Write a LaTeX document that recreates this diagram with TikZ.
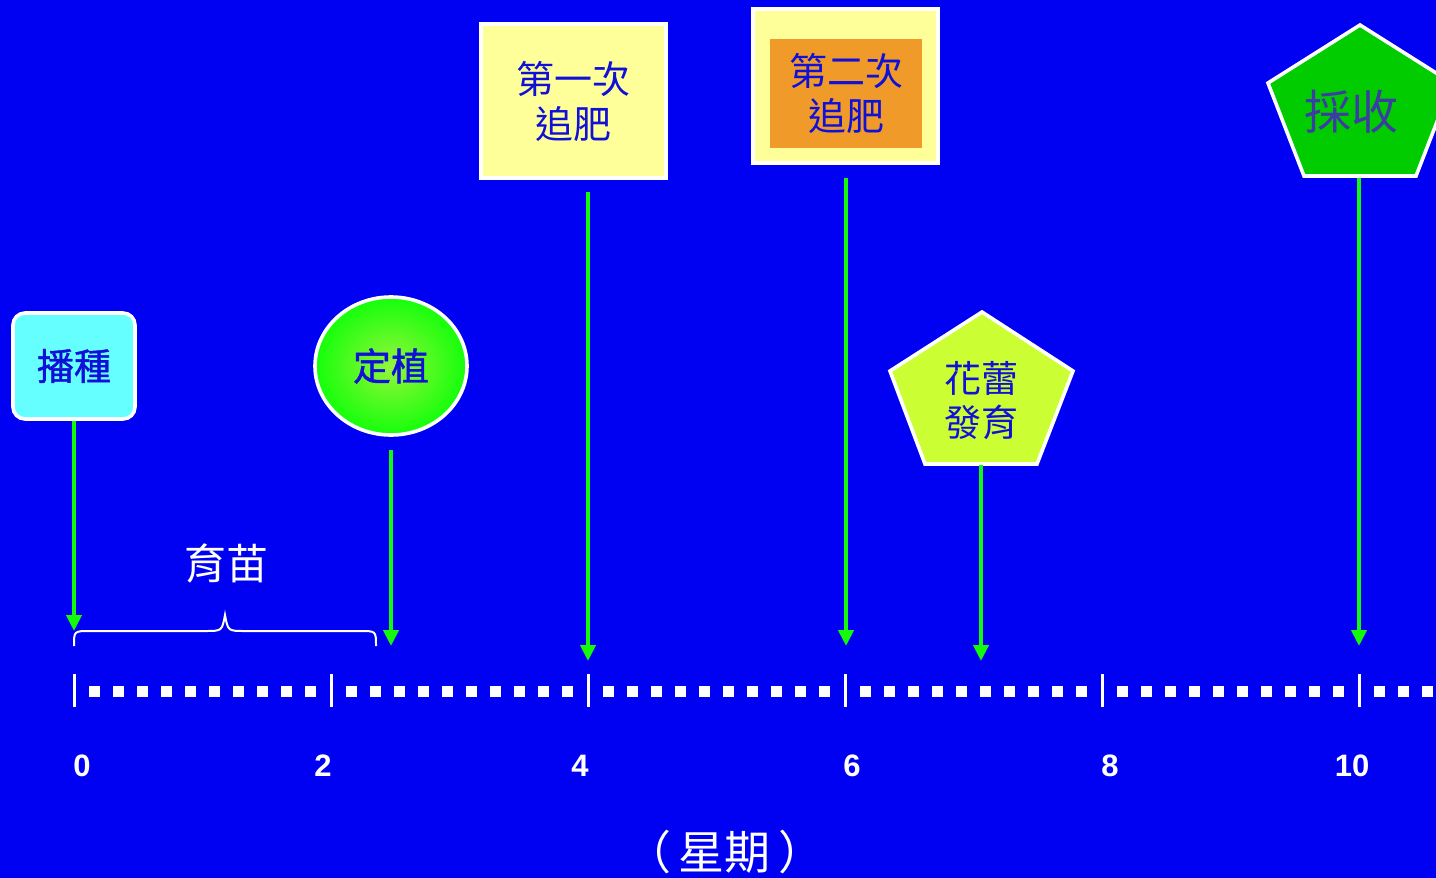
\documentclass[tikz,border=0pt]{standalone}
\usepackage{fontspec}
\setmainfont{Liberation Sans}
\newfontfamily\cjk{Noto Sans CJK TC}
\newfontfamily\cjkb[FakeBold=1.2]{Noto Sans CJK TC}
\usetikzlibrary{arrows.meta,shapes.geometric}
\definecolor{bg}{RGB}{0,0,242}
\definecolor{arrowgreen}{RGB}{20,250,10}
\definecolor{txtblue}{RGB}{16,16,215}
\definecolor{harvtxt}{RGB}{60,60,165}
\definecolor{cyanbox}{RGB}{102,255,255}
\definecolor{paleyellow}{RGB}{255,255,153}
\definecolor{orangebox}{RGB}{240,154,42}
\definecolor{budgreen}{RGB}{204,255,51}
\definecolor{harvgreen}{RGB}{0,204,0}
\definecolor{ellin}{RGB}{150,245,60}
\definecolor{ellout}{RGB}{20,255,10}
\tikzset{
  wborder/.style={draw=white, line width=1.8pt, inner sep=0pt},
  cjktext/.style={text=txtblue, align=center, font=\cjk\fontsize{19}{22.5}\selectfont},
  garrow/.style={draw=arrowgreen, line width=2pt, -{Triangle[width=7.5pt,length=8pt]}},
  ticklab/.style={text=white, font=\bfseries\fontsize{15.5}{18}\selectfont},
  tickmark/.style={draw=white, line width=1.5pt},
  dotsq/.style={fill=white},
}
\begin{document}
\begin{tikzpicture}[x=0.5pt,y=-0.5pt]
\useasboundingbox (0,0) rectangle (1436,878);
\fill[bg] (0,0) rectangle (1436,878);
\begin{scope}
\clip (0,0) rectangle (1436,878);
% axis ticks and dotted squares
\foreach \i in {0,...,5} {
  \pgfmathsetmacro{\tx}{74+257*\i}
  \draw[tickmark] (\tx,674) -- (\tx,707);
  \foreach \k in {0,...,9} {
    \pgfmathsetmacro{\sx}{\tx+20.5+24*\k}
    \fill[dotsq] (\sx-5.5,685.5) rectangle (\sx+5.5,696.5);
  }
}
% pentagons
\draw[white, line width=1.8pt, fill=budgreen, line join=miter]
  (982,312) -- (1073,371) -- (1037,464) -- (925,464) -- (890,371) -- cycle;
\draw[white, line width=1.8pt, fill=harvgreen, line join=miter]
  (1360,25) -- (1452,83) -- (1416,176) -- (1304,176) -- (1268,83) -- cycle;
\end{scope}

% nodes
\node[wborder, fill=cyanbox, rounded corners=6pt, minimum width=61pt, minimum height=53pt,
      cjktext, font=\cjkb\fontsize{18.5}{22}\selectfont] (bozhong) at (74,366) {播種};
\node[wborder, ellipse, minimum width=76pt, minimum height=69pt, inner color=ellin, outer color=ellout,
      cjktext, font=\cjkb\fontsize{19}{22}\selectfont] (dingzhi) at (391,366) {定植};
\node[wborder, fill=paleyellow, minimum width=92.5pt, minimum height=77pt, cjktext] (zhui1) at (573.5,101) {第一次\\追肥};
\node[wborder, fill=paleyellow, minimum width=92.5pt, minimum height=77pt] (zhui2out) at (845.5,86) {};
\node[fill=orangebox, inner sep=0pt, minimum width=76pt, minimum height=54.5pt, cjktext] (zhui2) at (846,93) {第二次\\追肥};
\node[cjktext, font=\cjk\fontsize{18.5}{22}\selectfont] (hualei) at (981,401) {花蕾\\發育};
\node[text=harvtxt, font=\cjk\fontsize{23.5}{26}\selectfont] (caishou) at (1351,112) {採收};
\node[text=white, font=\cjk\fontsize{21}{24}\selectfont] (yumiao) at (226,563) {育苗};
\node[text=white, font=\cjk\fontsize{23}{26}\selectfont] (xingqi) at (725,852) {（\hspace{4pt}星期\hspace{4pt}）};

% tick labels
\node[ticklab] (l0) at (82,766) {0};
\node[ticklab] (l2) at (323,766) {2};
\node[ticklab] (l4) at (580,766) {4};
\node[ticklab] (l6) at (852,766) {6};
\node[ticklab] (l8) at (1110,766) {8};
\node[ticklab] (l10) at (1352,766) {10};

% brace
\draw[white, line width=1pt] (74,646) .. controls (74,631) .. (90,631) -- (205,631)
  .. controls (222,631) .. (225,615) .. controls (228,631) .. (245,631) -- (360,631)
  .. controls (376,631) .. (376,646);

% arrow coordinates
\coordinate (e1) at (74,631);
\coordinate (s2) at (391,450); \coordinate (e2) at (391,646);
\coordinate (s3) at (588,192); \coordinate (e3) at (588,661);
\coordinate (s4) at (846,178); \coordinate (e4) at (846,646);
\coordinate (s5) at (981,465); \coordinate (e5) at (981,661);
\coordinate (s6) at (1359,178); \coordinate (e6) at (1359,646);

\draw[garrow] (bozhong.south) -- (e1);
\draw[garrow] (s2) -- (e2);
\draw[garrow] (s3) -- (e3);
\draw[garrow] (s4) -- (e4);
\draw[garrow] (s5) -- (e5);
\draw[garrow] (s6) -- (e6);
\end{tikzpicture}
\end{document}
